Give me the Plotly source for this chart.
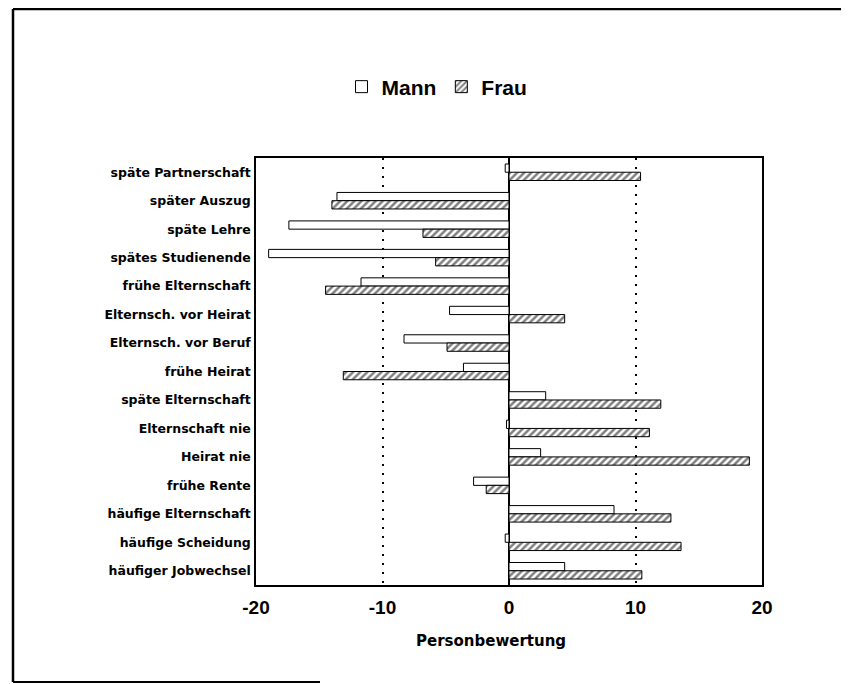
import plotly.graph_objects as go

categories = ["späte Partnerschaft", "später Auszug", "späte Lehre", "spätes Studienende",
              "frühe Elternschaft", "Elternsch. vor Heirat", "Elternsch. vor Beruf", "frühe Heirat",
              "späte Elternschaft", "Elternschaft nie", "Heirat nie", "frühe Rente",
              "häufige Elternschaft", "häufige Scheidung", "häufiger Jobwechsel"]
mann = [-0.3, -13.6, -17.4, -19.0, -11.7, -4.7, -8.3, -3.6, 2.9, -0.2, 2.5, -2.8, 8.3, -0.3, 4.4]
frau = [10.4, -14.0, -6.8, -5.8, -14.5, 4.4, -4.9, -13.1, 12.0, 11.1, 19.0, -1.8, 12.8, 13.6, 10.5]
x_ticks = [-20, -10, 0, 10, 20]
x_title = "Personbewertung"

FONT = "Liberation Sans"
YFONT = "DejaVu Sans"

fig = go.Figure()
fig.add_trace(go.Bar(y=categories, x=mann, orientation="h", name="Mann",
                     marker=dict(color="white", line=dict(color="black", width=1))))
fig.add_trace(go.Bar(y=categories, x=frau, orientation="h", name="Frau",
                     marker=dict(color="white", line=dict(color="black", width=1),
                                 pattern=dict(shape="/", fgcolor="black", bgcolor="white",
                                              size=5, solidity=0.5))))

# page has an 8px body margin; work in figure coordinates = screen - 8
OFF = 8
W, H = 849 - OFF, 684 - OFF
L, T = 256 - OFF, 158 - OFF
R = W - (762 - OFF)
B = H - (585 - OFF)
pw, ph = W - L - R, H - T - B

def px(x):
    return (x - OFF - L) / pw

def py(y):
    return 1 - (y - OFF - T) / ph

fig.update_layout(
    width=W, height=H,
    margin=dict(l=L, r=R, t=T, b=B),
    paper_bgcolor="white", plot_bgcolor="white",
    barmode="group", bargap=0.42, bargroupgap=0,
    font=dict(family=FONT, color="black"),
    legend=dict(orientation="h", x=px(437), y=py(87), xanchor="center", yanchor="middle",
                font=dict(size=21, family=FONT, weight="bold"), traceorder="normal",
                itemwidth=30, bgcolor="rgba(0,0,0,0)"),
    xaxis=dict(range=[-20, 20], tickvals=x_ticks, ticktext=[str(v) for v in x_ticks],
               showgrid=True, gridcolor="black", griddash="2px,7px", gridwidth=1.5,
               zeroline=True, zerolinecolor="black", zerolinewidth=1.5,
               showline=True, linecolor="black", linewidth=1.5, mirror=True,
               ticks="", ticklabelstandoff=4,
               tickfont=dict(size=19, family=FONT, weight="bold")),
    yaxis=dict(autorange="reversed", showgrid=False,
               showline=True, linecolor="black", linewidth=1.5, mirror=True,
               ticks="", tickfont=dict(size=12.5, family=YFONT, weight="bold"), ticklabelstandoff=1),
    annotations=[
        dict(text=x_title, xref="paper", yref="paper", x=px(491), y=py(641),
             xanchor="center", yanchor="middle", showarrow=False,
             font=dict(size=15, family=YFONT, weight="bold", color="black")),
    ],
    shapes=[
        dict(type="line", xref="paper", yref="paper", x0=px(13), x1=px(849), y0=py(9), y1=py(9),
             line=dict(color="black", width=2.5)),
        dict(type="line", xref="paper", yref="paper", x0=px(13), x1=px(13), y0=py(9), y1=py(682),
             line=dict(color="black", width=2.5)),
        dict(type="line", xref="paper", yref="paper", x0=px(13), x1=px(320), y0=py(682), y1=py(682),
             line=dict(color="black", width=2)),
    ],
)

fig.write_html("out.html")
